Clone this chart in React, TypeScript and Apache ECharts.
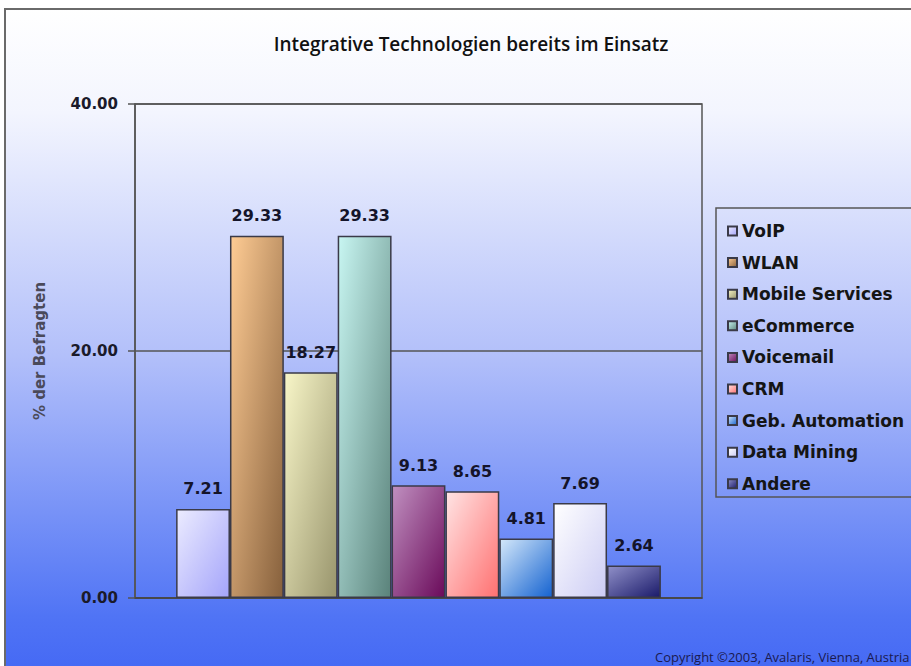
import React, { useEffect, useRef } from "react";
import * as echarts from "echarts";

const titleText = "Integrative Technologien bereits im Einsatz";
const yAxisName = "% der Befragten";
const copyrightText = "Copyright ©2003, Avalaris, Vienna, Austria";
const seriesNames = [
  "VoIP",
  "WLAN",
  "Mobile Services",
  "eCommerce",
  "Voicemail",
  "CRM",
  "Geb. Automation",
  "Data Mining",
  "Andere",
];
const seriesValues = [7.21, 29.33, 18.27, 29.33, 9.13, 8.65, 4.81, 7.69, 2.64];
const lightColors = ["#ececff", "#ffcc94", "#f8f6c8", "#c8f6f2", "#c090c0", "#ffe4e4", "#d4e8fa", "#ffffff", "#9090c8"];
const darkColors = ["#a4a4fa", "#86603c", "#98946c", "#5a827a", "#6a0a5a", "#ff7070", "#1462d0", "#ccccf4", "#1a1a6a"];
const yMin = 0;
const yMax = 40;
const yInterval = 20;

export default function App() {
  const ref = useRef<HTMLDivElement>(null);
  useEffect(() => {
    document.body.style.margin = "0";
    const chart = echarts.init(ref.current!, null, { renderer: "svg" });
    const labelFont = "DejaVu Sans";
    chart.setOption({
      animation: false,
      backgroundColor: "#ffffff",
      title: {
        text: titleText,
        left: 466,
        top: 29,
        textAlign: "center",
        textStyle: { fontFamily: "Open Sans", fontSize: 19, fontWeight: 600, color: "#111111" },
      },
      graphic: [
        {
          type: "rect",
          z: -10,
          shape: { x: 5, y: 9, width: 930, height: 690 },
          style: {
            fill: new echarts.graphic.LinearGradient(0, 0, 0, 1, [
              { offset: 0, color: "#ffffff" },
              { offset: 0.15, color: "#f3f5fe" },
              { offset: 0.5, color: "#b3c0fa" },
              { offset: 0.88, color: "#5074f5" },
              { offset: 1, color: "#3f63f4" },
            ]),
            stroke: "#6a6a6a",
            lineWidth: 2,
          },
        },
        {
          type: "rect",
          z: 1,
          shape: { x: 716, y: 208, width: 230, height: 289 },
          style: { fill: "rgba(0,0,0,0)", stroke: "#555555", lineWidth: 1.5 },
        },
        {
          type: "text",
          z: 5,
          x: 655,
          y: 650,
          style: { text: copyrightText, fontFamily: "Open Sans", fontSize: 13, fill: "#1a1a50" },
        },
      ],
      legend: {
        orient: "vertical",
        left: 722,
        top: 217,
        itemWidth: 9,
        itemHeight: 9,
        itemGap: 13.6,
        icon: "rect",
        data: seriesNames,
        textStyle: { fontFamily: labelFont, fontSize: 17, fontWeight: "bold", color: "#151515", lineHeight: 18 },
      },
      grid: {
        left: 135,
        right: 209,
        top: 104,
        bottom: 68,
        show: true,
        borderColor: "#555555",
        borderWidth: 1.5,
        backgroundColor: "transparent",
      },
      xAxis: {
        type: "category",
        data: [""],
        axisLine: { show: true, lineStyle: { color: "#444444", width: 1.5 } },
        axisTick: { show: false },
        axisLabel: { show: false },
      },
      yAxis: {
        type: "value",
        min: yMin,
        max: yMax,
        interval: yInterval,
        name: yAxisName,
        nameLocation: "middle",
        nameGap: 88,
        nameTextStyle: { fontFamily: labelFont, fontSize: 15, fontWeight: "bold", color: "#4a4a5a" },
        axisLine: { show: true, lineStyle: { color: "#555555", width: 1.5 } },
        axisTick: { show: true, inside: false, length: 7, lineStyle: { color: "#555555", width: 1.5 } },
        axisLabel: {
          margin: 17,
          fontFamily: labelFont,
          fontSize: 15,
          fontWeight: "bold",
          color: "#1a1a2a",
          formatter: (v: number) => v.toFixed(2),
        },
        splitLine: { show: true, lineStyle: { color: "#555555", width: 1.5 } },
      },
      series: seriesNames.map((name, i) => ({
        name,
        type: "bar",
        data: [seriesValues[i]],
        barGap: "0%",
        barCategoryGap: "14.5%",
        itemStyle: {
          color: new echarts.graphic.LinearGradient(0, 0, 1, 1, [
            { offset: 0, color: lightColors[i] },
            { offset: 1, color: darkColors[i] },
          ]),
          borderColor: "#3a3a48",
          borderWidth: 1.5,
        },
        label: {
          show: true,
          position: "top",
          distance: 12,
          fontFamily: labelFont,
          fontSize: 16,
          fontWeight: "bold",
          color: "#14142a",
          formatter: (p: any) => Number(p.value).toFixed(2),
        },
      })),
    });
    return () => chart.dispose();
  }, []);
  return <div ref={ref} style={{ width: 911, height: 666 }} />;
}
